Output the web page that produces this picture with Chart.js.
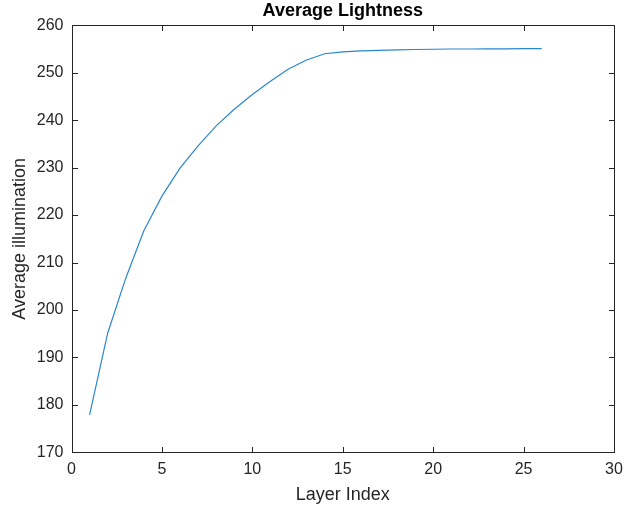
<!DOCTYPE html>
<html>
<head>
<meta charset="utf-8">
<script src="https://cdn.jsdelivr.net/npm/chart.js@4/dist/chart.umd.min.js"></script>
<style>
html,body{margin:0;padding:0;background:#fff;}
#wrap{width:625px;height:512px;position:relative;}
</style>
</head>
<body>
<div id="wrap"><canvas id="c" width="625" height="512"></canvas></div>
<script>
const layerIndex = [1,2,3,4,5,6,7,8,9,10,11,12,13,14,15,16,17,18,19,20,21,22,23,24,25,26];
const avgIllumination = [177.9,195.1,206.7,216.7,224.0,229.9,234.6,238.8,242.3,245.4,248.2,250.8,252.7,254.0,254.4,254.6,254.7,254.8,254.9,254.95,255.0,255.0,255.05,255.05,255.1,255.1];
const xTicks = [0,5,10,15,20,25,30];
const yTicks = [170,180,190,200,210,220,230,240,250,260];
const titleText = 'Average Lightness';
const xLabel = 'Layer Index';
const yLabel = 'Average illumination';

const axisColor = '#262626';
const FONT = '"Liberation Sans", Arial, Helvetica, sans-serif';

const framePlugin = {
  id: 'frame',
  afterDraw(chart) {
    const {ctx, chartArea: a, scales} = chart;
    ctx.save();
    ctx.strokeStyle = axisColor;
    ctx.lineWidth = 1;
    const L = Math.round(a.left) + 0.5, R = Math.round(a.right) + 0.5;
    const T = Math.round(a.top) + 0.5, B = Math.round(a.bottom) + 0.5;
    ctx.strokeRect(L, T, R - L, B - T);
    const tl = 5.5;
    ctx.beginPath();
    xTicks.forEach(v => {
      const px = Math.round(scales.x.getPixelForValue(v)) + 0.5;
      ctx.moveTo(px, B); ctx.lineTo(px, B - tl);
      ctx.moveTo(px, T); ctx.lineTo(px, T + tl);
    });
    yTicks.forEach(v => {
      const py = Math.round(scales.y.getPixelForValue(v)) + 0.5;
      ctx.moveTo(L, py); ctx.lineTo(L + tl, py);
      ctx.moveTo(R, py); ctx.lineTo(R - tl, py);
    });
    ctx.stroke();
    // title
    ctx.fillStyle = '#000';
    ctx.font = 'bold 18px ' + FONT;
    ctx.textAlign = 'center';
    ctx.textBaseline = 'middle';
    ctx.fillText(titleText, (a.left + a.right) / 2, 11);
    ctx.restore();
  }
};

new Chart(document.getElementById('c'), {
  type: 'line',
  data: {
    datasets: [{
      data: layerIndex.map((x, i) => ({x: x, y: avgIllumination[i]})),
      borderColor: '#2a86cc',
      borderWidth: 1.2,
      pointRadius: 0,
      fill: false,
      tension: 0
    }]
  },
  options: {
    responsive: false,
    animation: false,
    devicePixelRatio: 1,
    layout: {padding: {top: 25.3, right: 11, left: 0, bottom: 0}},
    plugins: {legend: {display: false}, tooltip: {enabled: false}, title: {display: false}},
    scales: {
      x: {
        type: 'linear',
        min: 0, max: 30,
        afterBuildTicks(s) { s.ticks = xTicks.map(v => ({value: v})); },
        afterFit(s) { s.height = 59.7; s.paddingLeft = 0; s.paddingRight = 0; },
        grid: {display: false, drawTicks: false},
        border: {display: false},
        ticks: {color: axisColor, font: {family: FONT, size: 16}, padding: 8, maxRotation: 0},
        title: {display: true, text: xLabel, color: axisColor, font: {family: FONT, size: 18}, padding: {top: 0, bottom: 6}}
      },
      y: {
        type: 'linear',
        min: 170, max: 260,
        afterBuildTicks(s) { s.ticks = yTicks.map(v => ({value: v})); },
        afterFit(s) { s.width = 71.5; s.paddingTop = 0; s.paddingBottom = 0; },
        grid: {display: false, drawTicks: false},
        border: {display: false},
        ticks: {color: axisColor, font: {family: FONT, size: 16}, padding: 8},
        title: {display: true, text: yLabel, color: axisColor, font: {family: FONT, size: 18}, padding: {top: 9, bottom: 0}}
      }
    }
  },
  plugins: [framePlugin]
});
</script>
</body>
</html>
